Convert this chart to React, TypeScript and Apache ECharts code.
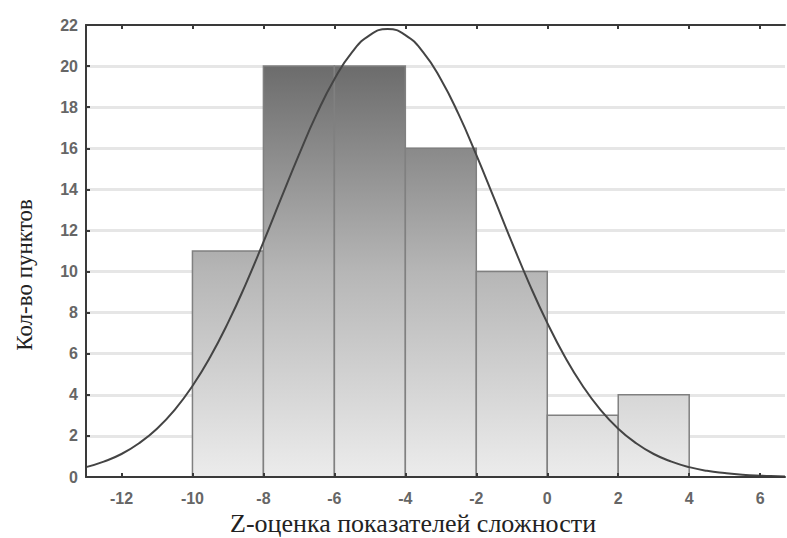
import React, { useEffect, useRef } from "react";
import * as echarts from "echarts";

// Histogram bins (left edge, right edge) and counts
const binStarts = [-10, -8, -6, -4, -2, 0, 2];
const binEnds = [-8, -6, -4, -2, 0, 2, 4];
const counts = [11, 20, 20, 16, 10, 3, 4];

// Fitted curve, points
const curveX = [-13, -12.5, -12, -11.5, -11, -10.5, -10, -9.5, -9, -8.5, -8, -7.5, -7, -6.5, -6, -5.5, -5, -4.5, -4, -3.5, -3, -2.5, -2, -1.5, -1, -0.5, 0, 0.5, 1, 1.5, 2, 2.5, 3, 3.5, 4, 4.5, 5, 5.5, 6, 6.5, 6.7];
const curveY = [0.48, 0.75, 1.12, 1.65, 2.35, 3.27, 4.43, 5.84, 7.5, 9.38, 11.43, 13.57, 15.68, 17.66, 19.36, 20.68, 21.51, 21.8, 21.51, 20.68, 19.36, 17.66, 15.68, 13.57, 11.43, 9.38, 7.5, 5.84, 4.43, 3.27, 2.35, 1.65, 1.12, 0.75, 0.48, 0.3, 0.19, 0.11, 0.065, 0.04, 0.03];

const xTicks = [-12, -10, -8, -6, -4, -2, 0, 2, 4, 6];
const gridValues = [2, 4, 6, 8, 10, 12, 14, 16, 18, 20];
const xTitle = "Z-оценка показателей сложности";
const yTitle = "Кол-во пунктов";

export default function App() {
  const ref = useRef<HTMLDivElement>(null);
  useEffect(() => {
    if (!ref.current) return;
    const chart = echarts.init(ref.current, null, { renderer: "svg" });
    const barData = binStarts.map((s, i) => [s, binEnds[i], counts[i]]);
    const lineData = curveX.map((x, i) => [x, curveY[i]]);
    const axisColor = "#3a3a3a";
    const labelFont = {
      color: "#666",
      fontFamily: "Liberation Sans, Arial, sans-serif",
      fontSize: 16,
      fontWeight: "bold",
    };
    chart.setOption({
      animation: false,
      backgroundColor: "#ffffff",
      grid: { left: 86, right: 2, top: 25, bottom: 61, containLabel: false },
      graphic: [
        {
          type: "text",
          left: 230,
          top: 510,
          style: {
            text: xTitle,
            font: "26px 'Liberation Serif', 'Times New Roman', serif",
            fill: "#222",
          },
        },
        {
          type: "text",
          x: 24,
          y: 275,
          rotation: Math.PI / 2,
          style: {
            text: yTitle,
            font: "23px 'Liberation Serif', 'Times New Roman', serif",
            fill: "#222",
            align: "center",
            verticalAlign: "middle",
          },
        },
      ],
      xAxis: [
        {
          type: "value",
          min: -13,
          max: 6.7,
          position: "bottom",
          axisLine: { show: true, onZero: false, lineStyle: { color: axisColor, width: 2 } },
          axisTick: { show: true, inside: true, length: 4, customValues: xTicks, lineStyle: { color: axisColor, width: 2 } },
          axisLabel: { customValues: xTicks, margin: 13, ...labelFont },
          splitLine: { show: false },
          z: 5,
        },
        {
          type: "value",
          min: -13,
          max: 6.7,
          position: "top",
          axisLine: { show: true, onZero: false, lineStyle: { color: axisColor, width: 2 } },
          axisTick: { show: true, inside: true, length: 4, customValues: xTicks, lineStyle: { color: axisColor, width: 2 } },
          axisLabel: { show: false },
          splitLine: { show: false },
          z: 5,
        },
      ],
      yAxis: {
        type: "value",
        min: 0,
        max: 22,
        interval: 2,
        axisLine: { show: true, onZero: false, lineStyle: { color: axisColor, width: 2 } },
        axisTick: { show: true, inside: true, length: 4, lineStyle: { color: axisColor, width: 2 } },
        axisLabel: { margin: 8, ...labelFont },
        splitLine: { show: false },
        z: 5,
      },
      series: [
        {
          type: "line",
          xAxisIndex: 0,
          yAxisIndex: 0,
          data: [],
          silent: true,
          z: 1,
          markLine: {
            z: 1,
            silent: true,
            symbol: ["none", "none"],
            label: { show: false },
            lineStyle: { color: "#e6e6e6", width: 3, type: "solid" },
            data: gridValues.map((v) => ({ yAxis: v })),
          },
        },
        {
          type: "custom",
          xAxisIndex: 0,
          yAxisIndex: 0,
          encode: { x: [0, 1], y: 2 },
          data: barData,
          renderItem: (params: any, api: any) => {
            const p0 = api.coord([api.value(0), 0]);
            const p1 = api.coord([api.value(1), api.value(2)]);
            const yBottom = api.coord([0, 0])[1];
            const yTop = api.coord([0, 20])[1];
            const fill = new echarts.graphic.LinearGradient(
              0, yBottom, 0, yTop,
              [
                { offset: 0, color: "#ececec" },
                { offset: 0.5, color: "#b6b6b6" },
                { offset: 1, color: "#6c6c6c" },
              ],
              true
            );
            return {
              type: "rect",
              shape: { x: p0[0], y: p1[1], width: p1[0] - p0[0], height: p0[1] - p1[1] },
              style: { fill, stroke: "#808080", lineWidth: 1.5 },
            };
          },
          z: 3,
        },
        {
          type: "line",
          xAxisIndex: 0,
          yAxisIndex: 0,
          data: lineData,
          smooth: true,
          showSymbol: false,
          symbol: "none",
          lineStyle: { color: "#444", width: 2 },
          z: 4,
        },
      ],
    });
    return () => chart.dispose();
  }, []);
  return (
    <div
      ref={ref}
      style={{ position: "fixed", left: 0, top: 0, width: 787, height: 538 }}
    />
  );
}
